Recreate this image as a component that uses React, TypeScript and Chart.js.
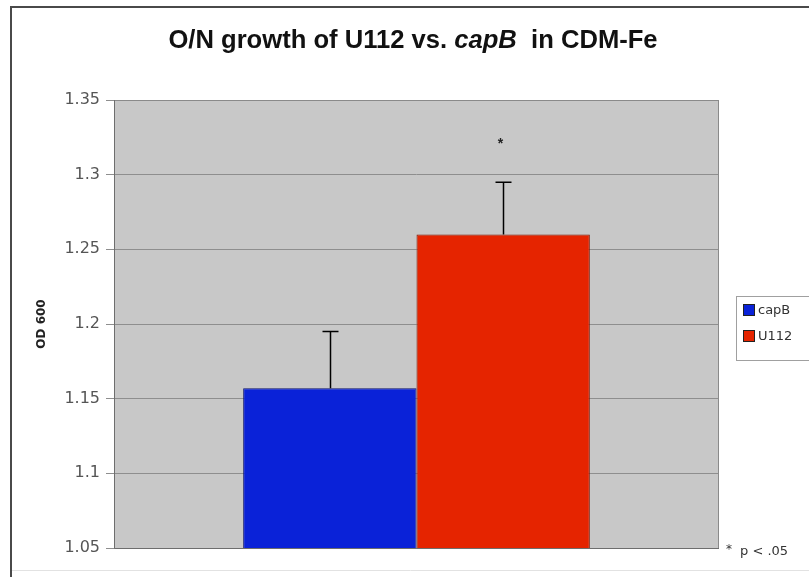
import React, { useEffect, useRef } from "react";
import { Chart, registerables } from "chart.js";

Chart.register(...registerables);

// ---- data ----
const categories = [""];
const seriesLabels = ["capB", "U112"];
const capBValues = [1.157];
const u112Values = [1.26];
const capBErrors = [0.038];
const u112Errors = [0.035];
const sigMarks = ["", "*"];
const sigMarkValues = [null, 1.322];
const yTickValues = [1.05, 1.1, 1.15, 1.2, 1.25, 1.3, 1.35];
const yTickLabels = ["1.05", "1.1", "1.15", "1.2", "1.25", "1.3", "1.35"];
const seriesColors = ["#0a22d8", "#e52400"];
const seriesBorders = ["#0a1270", "#7a1400"];
const titleParts = [
  { text: "O/N growth of U112 vs. ", italic: false },
  { text: "capB", italic: true },
  { text: "  in CDM-Fe", italic: false },
];
const footnoteMark = "*";
const footnoteText = "p < .05";
const yAxisTitle = "OD 600";

const PAD_LEFT = 31;

const decorPlugin = {
  id: "decor",
  beforeDraw(chart: any) {
    const { ctx, chartArea: a } = chart;
    ctx.save();
    ctx.fillStyle = "#c8c8c8";
    ctx.fillRect(a.left, a.top, a.right - a.left, a.bottom - a.top);
    ctx.restore();
  },
  afterDatasetsDraw(chart: any) {
    const { ctx } = chart;
    const yScale = chart.scales.y;
    const errs = [capBErrors, u112Errors];
    const vals = [capBValues, u112Values];
    ctx.save();
    ctx.strokeStyle = "#000";
    ctx.lineWidth = 1.5;
    chart.data.datasets.forEach((ds: any, di: number) => {
      const meta = chart.getDatasetMeta(di);
      meta.data.forEach((bar: any, i: number) => {
        const v = vals[di][i];
        const e = errs[di][i];
        const yTop = yScale.getPixelForValue(v + e);
        const yBase = yScale.getPixelForValue(v);
        const x = Math.round(bar.x) + 0.5;
        ctx.beginPath();
        ctx.moveTo(x, yBase);
        ctx.lineTo(x, yTop);
        ctx.moveTo(x - 8, yTop);
        ctx.lineTo(x + 8, yTop);
        ctx.stroke();
        const mark = sigMarks[di];
        const mv = sigMarkValues[di];
        if (mark && mv != null) {
          ctx.fillStyle = "#222";
          ctx.font = "bold 14px 'Liberation Sans', Arial, sans-serif";
          ctx.textAlign = "center";
          ctx.textBaseline = "middle";
          ctx.fillText(mark, x - 3, yScale.getPixelForValue(mv) + 2);
        }
      });
    });
    ctx.restore();
  },
  afterDraw(chart: any) {
    const { ctx, chartArea: a } = chart;
    ctx.save();
    // plot border
    ctx.strokeStyle = "#8a8a8a";
    ctx.lineWidth = 1;
    ctx.strokeRect(a.left + 0.5, a.top + 0.5, a.right - a.left - 1, a.bottom - a.top);
    ctx.strokeStyle = "#6e6e6e";
    ctx.beginPath();
    ctx.moveTo(a.left + 0.5, a.top);
    ctx.lineTo(a.left + 0.5, a.bottom + 0.5);
    ctx.lineTo(a.right, a.bottom + 0.5);
    ctx.stroke();

    // outer frame
    ctx.strokeStyle = "#4a4a4a";
    ctx.lineWidth = 2;
    ctx.beginPath();
    ctx.moveTo(11, 577);
    ctx.lineTo(11, 7);
    ctx.lineTo(809, 7);
    ctx.stroke();
    ctx.strokeStyle = "#e2e2e2";
    ctx.lineWidth = 1;
    ctx.beginPath();
    ctx.moveTo(12, 570.5);
    ctx.lineTo(809, 570.5);
    ctx.stroke();

    // title
    const fontN = "bold 25.6px 'Liberation Sans', Arial, sans-serif";
    const fontI = "italic bold 25.6px 'Liberation Sans', Arial, sans-serif";
    let total = 0;
    const widths = titleParts.map((p) => {
      ctx.font = p.italic ? fontI : fontN;
      const w = ctx.measureText(p.text).width;
      total += w;
      return w;
    });
    let x = 413 - total / 2;
    ctx.fillStyle = "#111";
    ctx.textBaseline = "alphabetic";
    ctx.textAlign = "left";
    titleParts.forEach((p, i) => {
      ctx.font = p.italic ? fontI : fontN;
      ctx.fillText(p.text, x, 48);
      x += widths[i];
    });

    // legend
    ctx.strokeStyle = "#a0a0a0";
    ctx.lineWidth = 1;
    ctx.strokeRect(736.5, 296.5, 120, 64);
    ctx.font = "13px 'DejaVu Sans', Verdana, sans-serif";
    ctx.textBaseline = "middle";
    seriesLabels.forEach((lab, i) => {
      const cy = 310 + i * 26;
      ctx.fillStyle = seriesColors[i];
      ctx.fillRect(743, cy - 6, 12, 12);
      ctx.strokeStyle = "#222";
      ctx.strokeRect(743.5, cy - 5.5, 11, 11);
      ctx.fillStyle = "#333";
      ctx.fillText(lab, 758, cy + 1);
    });

    // footnote
    ctx.fillStyle = "#333";
    ctx.textBaseline = "middle";
    ctx.font = "12px 'DejaVu Sans', Verdana, sans-serif";
    ctx.fillText(footnoteMark, 726, 550);
    ctx.font = "13px 'DejaVu Sans', Verdana, sans-serif";
    ctx.fillText(footnoteText, 740, 552);
    ctx.restore();
  },
};

export default function App() {
  const ref = useRef<HTMLCanvasElement | null>(null);
  useEffect(() => {
    document.body.style.margin = "0";
    const canvas = ref.current!;
    const chart = new Chart(canvas, {
      type: "bar",
      data: {
        labels: categories,
        datasets: [
          {
            label: seriesLabels[0],
            data: capBValues,
            backgroundColor: seriesColors[0],
            borderColor: seriesBorders[0],
            borderWidth: 1,
            categoryPercentage: 0.573,
            barPercentage: 1,
          },
          {
            label: seriesLabels[1],
            data: u112Values,
            backgroundColor: seriesColors[1],
            borderColor: seriesBorders[1],
            borderWidth: 1,
            categoryPercentage: 0.573,
            barPercentage: 1,
          },
        ],
      },
      options: {
        animation: false,
        responsive: false,
        layout: { padding: { left: PAD_LEFT, right: 90, top: 100, bottom: 29 } },
        plugins: {
          legend: { display: false },
          title: { display: false },
          tooltip: { enabled: false },
        },
        scales: {
          x: { display: false },
          y: {
            min: 1.05,
            max: 1.35,
            afterBuildTicks: (s: any) => {
              s.ticks = yTickValues.map((v) => ({ value: v }));
            },
            afterFit: (s: any) => {
              s.width = 114 - PAD_LEFT;
            },
            ticks: {
              color: "#555",
              font: { family: "'DejaVu Sans', Verdana, sans-serif", size: 16 },
              padding: 6,
              callback: (_v: any, i: number) => yTickLabels[i],
            },
            grid: { color: "#8e8e8e", lineWidth: 1, tickLength: 8 },
            border: { display: false },
            title: {
              display: true,
              text: yAxisTitle,
              color: "#222",
              font: { family: "'DejaVu Sans', Verdana, sans-serif", size: 12, weight: "bold" },
              padding: { top: 4, bottom: 4 },
            },
          },
        },
      },
      plugins: [decorPlugin],
    } as any);
    return () => chart.destroy();
  }, []);
  return (
    <div style={{ position: "relative", width: 809, height: 577, background: "#fff", overflow: "hidden" }}>
      <canvas ref={ref} width={809} height={577} style={{ display: "block", width: 809, height: 577 }} />
    </div>
  );
}
